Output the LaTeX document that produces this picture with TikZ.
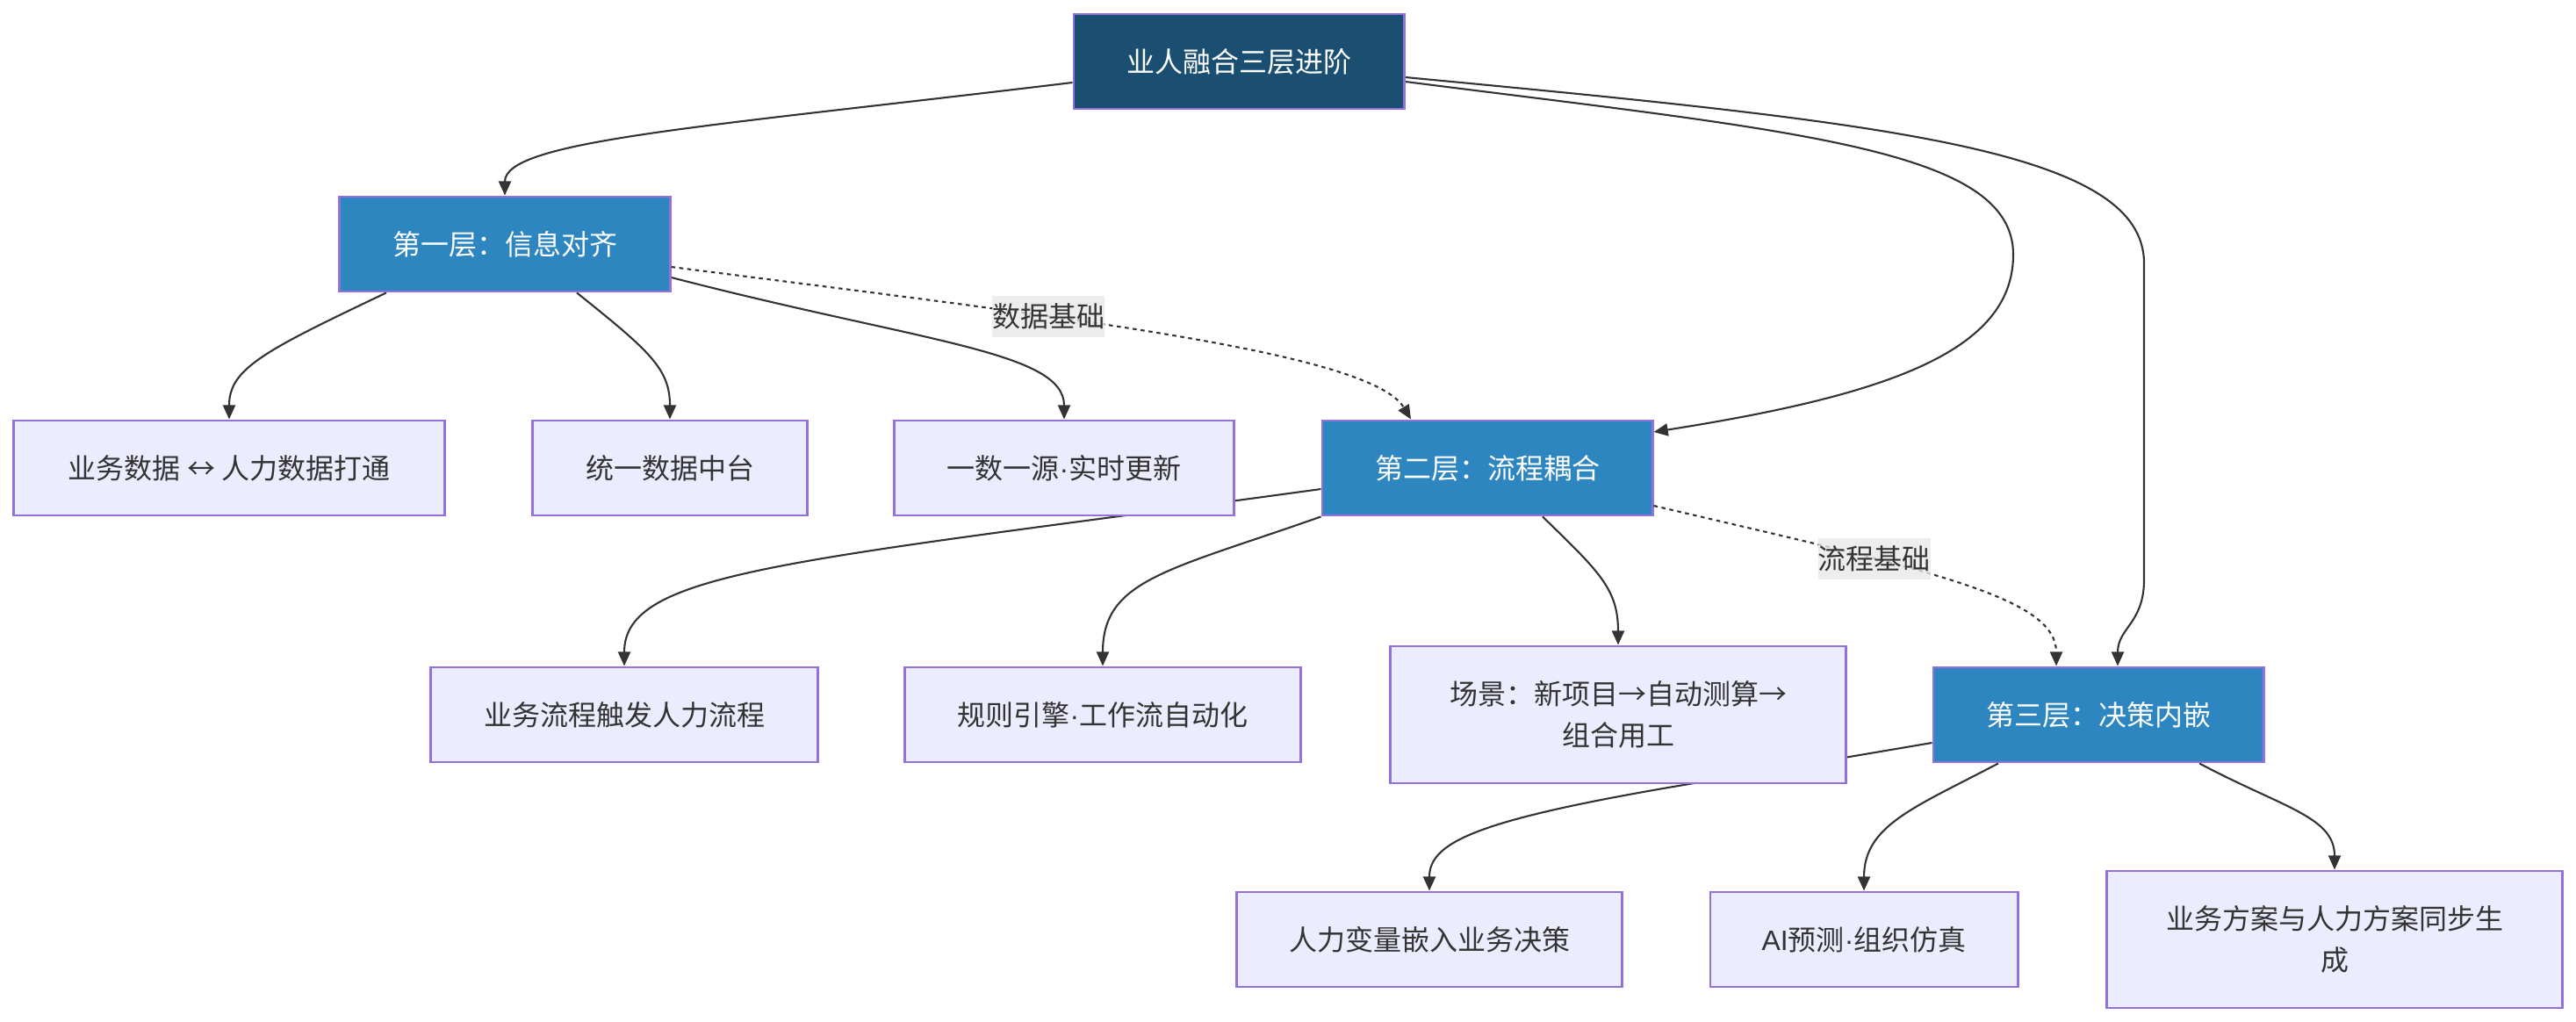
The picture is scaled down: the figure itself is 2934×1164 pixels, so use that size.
\documentclass[tikz,border=0pt]{standalone}
\usepackage{fontspec}
\setmainfont{Noto Sans CJK SC}
\newfontfamily\latinfont{Liberation Sans}
\newcommand{\middot}{{\latinfont ·}}
\usetikzlibrary{arrows.meta, positioning, calc, backgrounds}
\definecolor{rootbg}{RGB}{27, 79, 114}
\definecolor{layerbg}{RGB}{46, 134, 193}
\definecolor{leafbg}{RGB}{236, 236, 255}
\definecolor{edgeline}{RGB}{147, 112, 219}
\definecolor{linkcol}{RGB}{51, 51, 51}
\definecolor{tagbg}{RGB}{232, 232, 232}
\tikzset{
    font=\fontsize{9.1pt}{13.3pt}\selectfont,
    root/.style={rectangle, draw=edgeline, fill=rootbg, text=white, line width=0.8pt, align=center, minimum width=3.76cm, minimum height=1.08cm},
    layer/.style={rectangle, draw=edgeline, fill=layerbg, text=white, line width=0.8pt, align=center, minimum width=3.76cm, minimum height=1.08cm},
    leaf/.style={rectangle, draw=edgeline, fill=leafbg, text=linkcol, line width=0.8pt, align=center, minimum height=1.08cm},
    tallleaf/.style={leaf, minimum width=5.19cm, minimum height=1.56cm},
    arrow/.style={-{Triangle[length=4.6pt, width=4pt]}, line width=0.6pt, color=linkcol},
    dotarrow/.style={arrow, dash pattern=on 1.3pt off 1.3pt},
    label_text/.style={fill=tagbg, fill opacity=0.8, text opacity=1, text=linkcol, inner sep=0pt, minimum height=0.47cm}
}

\begin{document}
\begin{tikzpicture}[x=0.01cm, y=-0.01cm]

    \useasboundingbox (0,0) rectangle (2934,1164);

    % Root
    \node (root) [root] at (1411,70) {业人融合三层进阶};

    % Layers
    \node (lay1) [layer] at (575,278) {第一层：信息对齐};
    \node (lay2) [layer] at (1694,533) {第二层：流程耦合};
    \node (lay3) [layer] at (2390,814) {第三层：决策内嵌};

    % Layer 1 items
    \node (dataLink) [leaf, minimum width=4.91cm] at (261,533) {业务数据 ↔ 人力数据打通};
    \node (dataHub)  [leaf, minimum width=3.13cm] at (763,533) {统一数据中台};
    \node (dataSrc)  [leaf, minimum width=3.87cm] at (1212,533) {一数一源\middot 实时更新};

    % Layer 2 items
    \node (flowTrig) [leaf, minimum width=4.40cm] at (711,814) {业务流程触发人力流程};
    \node (flowRule) [leaf, minimum width=4.51cm] at (1256,814) {规则引擎\middot 工作流自动化};
    \node (flowCase) [tallleaf] at (1843,814) {场景：新项目→自动测算→\\组合用工};

    % Layer 3 items
    \node (decVar)  [leaf, minimum width=4.39cm] at (1628,1070) {人力变量嵌入业务决策};
    \node (decAI)   [leaf, minimum width=3.50cm] at (2123,1070) {{\latinfont AI}预测\middot 组织仿真};
    \node (decSync) [tallleaf] at (2659,1070) {业务方案与人力方案同步生\\成};

    \begin{scope}[on background layer]
        % Paths: Root to layers
        \draw [arrow] ($(root.west)+(0,24)$) .. controls (800,145) and (575,160) .. (lay1.north);
        \draw [arrow] ($(root.east)+(0,23)$) .. controls (2050,150) and (2293,170) .. (2293,290)
            .. controls (2293,400) and (2150,450) .. ($(lay2.east)+(0,-41)$);
        \draw [arrow] ($(root.east)+(0,18)$) .. controls (2150,140) and (2442,170) .. (2442,300)
            -- (2442,660) .. controls (2442,710) and (2412,715) .. ($(lay3.north)+(22,0)$);

        % Paths: Layer 1
        \draw [arrow] ($(lay1.south)+(-135,0)$) .. controls (300,400) and (261,420) .. (dataLink.north);
        \draw [arrow] ($(lay1.south)+(82,0)$) .. controls (740,400) and (763,420) .. (dataHub.north);
        \draw [arrow] ($(lay1.east)+(0,38)$) .. controls (1050,390) and (1212,400) .. (dataSrc.north);

        % Paths: Layer 2
        \draw [arrow] ($(lay2.west)+(0,24)$) .. controls (900,640) and (711,650) .. (flowTrig.north);
        \draw [arrow] (lay2.south west) .. controls (1330,650) and (1256,660) .. (flowRule.north);
        \draw [arrow] ($(lay2.south)+(63,0)$) .. controls (1820,650) and (1843,670) .. (flowCase.north);

        % Paths: Layer 3
        \draw [arrow] ($(lay3.west)+(0,32)$) -- (1900,897) .. controls (1680,935) and (1628,960) .. (decVar.north);
        \draw [arrow] ($(lay3.south)+(-114,0)$) .. controls (2180,920) and (2123,940) .. (decAI.north);
        \draw [arrow] ($(lay3.south)+(115,0)$) .. controls (2600,920) and (2659,930) .. (decSync.north);
    \end{scope}

    % Paths: Layer to layer
    \draw [dotarrow] ($(lay1.east)+(0,26)$) .. controls (1200,360) and (1560,400) .. ($(lay2.north)+(-87,0)$)
        node[pos=0.36, label_text] {数据基础};
    \draw [dotarrow] ($(lay2.east)+(0,43)$) .. controls (2200,650) and (2342,680) .. ($(lay3.north)+(-48,0)$)
        node[pos=0.32, label_text] {流程基础};

\end{tikzpicture}
\end{document}
